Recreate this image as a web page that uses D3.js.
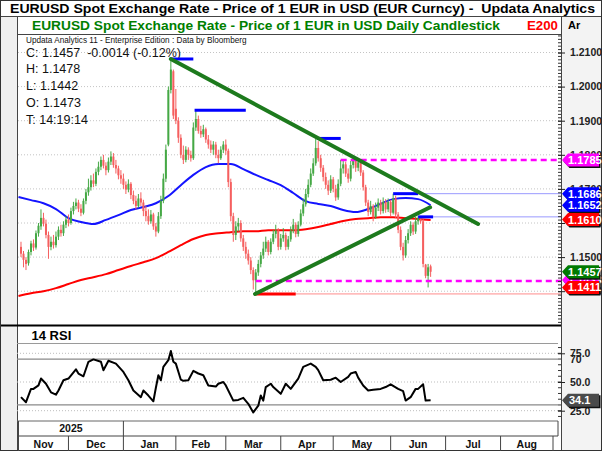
<!DOCTYPE html>
<html>
<head>
<meta charset="utf-8">
<script src="https://cdn.jsdelivr.net/npm/d3@7"></script>
<style>
  body { margin: 0; background: #fff; }
  text { font-family: "Liberation Sans", Arial, sans-serif; }
</style>
</head>
<body>
<div id="chart"></div>
<script>
// ---- data ----
const monthNames = ["Nov", "Dec", "Jan", "Feb", "Mar", "Apr", "May", "Jun", "Jul", "Aug"];
// trading-day index where each month starts (last entry = end of Aug)
const monthStart = [0, 20, 42, 63, 83, 105, 126, 149, 171, 193, 214];
const yearLabel = "2025";
const yearCellEnd = 42;

const priceTicks = [1.21, 1.20, 1.19, 1.18, 1.17, 1.16, 1.15, 1.14];

// daily candles [open, high, low, close], first one is trading day 1
const candles = [
  [1.1530,1.1545,1.1500,1.1510],[1.1510,1.1518,1.1470,1.1492],[1.1492,1.1500,1.1462,1.1480],[1.1482,1.1522,1.1475,1.1515],
  [1.1515,1.1548,1.1505,1.1540],[1.1540,1.1552,1.1518,1.1528],[1.1528,1.1578,1.1522,1.1570],[1.1570,1.1600,1.1560,1.1592],
  [1.1590,1.1640,1.1580,1.1615],[1.1615,1.1630,1.1590,1.1598],[1.1598,1.1610,1.1555,1.1565],[1.1565,1.1575,1.1495,1.1530],
  [1.1530,1.1560,1.1520,1.1545],[1.1545,1.1565,1.1525,1.1535],[1.1535,1.1575,1.1528,1.1560],[1.1560,1.1590,1.1550,1.1580],
  [1.1580,1.1595,1.1560,1.1570],[1.1570,1.1605,1.1562,1.1595],[1.1595,1.1620,1.1585,1.1610],[1.1610,1.1625,1.1590,1.1600],
  [1.1600,1.1645,1.1595,1.1635],[1.1635,1.1662,1.1625,1.1650],[1.1650,1.1672,1.1640,1.1660],[1.1660,1.1668,1.1632,1.1642],
  [1.1642,1.1655,1.1620,1.1630],[1.1630,1.1672,1.1625,1.1665],[1.1665,1.1700,1.1655,1.1690],[1.1690,1.1730,1.1680,1.1705],
  [1.1705,1.1740,1.1695,1.1725],[1.1725,1.1745,1.1705,1.1715],[1.1715,1.1760,1.1708,1.1750],[1.1750,1.1780,1.1740,1.1765],
  [1.1765,1.1795,1.1755,1.1785],[1.1785,1.1800,1.1760,1.1768],[1.1768,1.1778,1.1740,1.1755],[1.1755,1.1792,1.1748,1.1780],
  [1.1780,1.1810,1.1770,1.1795],[1.1795,1.1805,1.1762,1.1770],[1.1770,1.1785,1.1745,1.1760],[1.1760,1.1768,1.1728,1.1740],
  [1.1740,1.1755,1.1715,1.1730],[1.1730,1.1745,1.1700,1.1712],[1.1712,1.1722,1.1685,1.1698],[1.1698,1.1728,1.1690,1.1715],
  [1.1715,1.1720,1.1670,1.1682],[1.1682,1.1695,1.1655,1.1665],[1.1665,1.1680,1.1640,1.1650],[1.1650,1.1685,1.1645,1.1672],
  [1.1672,1.1690,1.1650,1.1660],[1.1660,1.1668,1.1620,1.1635],[1.1635,1.1650,1.1605,1.1620],[1.1620,1.1640,1.1595,1.1605],
  [1.1605,1.1638,1.1598,1.1625],[1.1625,1.1630,1.1580,1.1590],[1.1590,1.1600,1.1560,1.1575],[1.1575,1.1632,1.1570,1.1620],
  [1.1620,1.1680,1.1612,1.1665],[1.1665,1.1745,1.1658,1.1730],[1.1730,1.1830,1.1720,1.1815],[1.1830,1.2000,1.1825,1.1990],
  [1.1990,1.2081,1.1980,1.2050],[1.2045,1.2050,1.1905,1.1915],[1.1935,1.1993,1.1890,1.1900],[1.1900,1.1910,1.1835,1.1850],
  [1.1850,1.1860,1.1790,1.1800],[1.1800,1.1827,1.1773,1.1785],[1.1785,1.1825,1.1778,1.1815],[1.1815,1.1822,1.1785,1.1800],
  [1.1800,1.1812,1.1780,1.1790],[1.1790,1.1895,1.1785,1.1880],[1.1880,1.1931,1.1870,1.1905],[1.1905,1.1915,1.1862,1.1870],
  [1.1870,1.1885,1.1850,1.1860],[1.1860,1.1888,1.1852,1.1875],[1.1875,1.1880,1.1835,1.1845],[1.1845,1.1858,1.1818,1.1830],
  [1.1830,1.1842,1.1805,1.1815],[1.1815,1.1840,1.1800,1.1830],[1.1830,1.1838,1.1790,1.1800],[1.1800,1.1815,1.1775,1.1790],
  [1.1790,1.1825,1.1785,1.1815],[1.1815,1.1840,1.1805,1.1830],[1.1830,1.1845,1.1800,1.1812],[1.1812,1.1818,1.1705,1.1720],
  [1.1720,1.1730,1.1605,1.1620],[1.1620,1.1630,1.1545,1.1565],[1.1565,1.1605,1.1550,1.1590],[1.1590,1.1615,1.1575,1.1600],
  [1.1600,1.1608,1.1545,1.1555],[1.1555,1.1565,1.1518,1.1530],[1.1530,1.1545,1.1495,1.1510],[1.1510,1.1522,1.1478,1.1490],
  [1.1490,1.1500,1.1450,1.1462],[1.1462,1.1470,1.1405,1.1432],[1.1432,1.1465,1.1392,1.1455],[1.1455,1.1492,1.1445,1.1480],
  [1.1480,1.1515,1.1470,1.1505],[1.1505,1.1545,1.1495,1.1525],[1.1525,1.1560,1.1515,1.1545],[1.1545,1.1550,1.1505,1.1515],
  [1.1515,1.1555,1.1508,1.1545],[1.1545,1.1580,1.1538,1.1568],[1.1568,1.1595,1.1555,1.1578],[1.1578,1.1585,1.1520,1.1530],
  [1.1530,1.1568,1.1522,1.1555],[1.1555,1.1585,1.1545,1.1565],[1.1565,1.1572,1.1520,1.1530],[1.1530,1.1562,1.1522,1.1552],
  [1.1552,1.1590,1.1545,1.1578],[1.1578,1.1612,1.1570,1.1595],[1.1595,1.1602,1.1558,1.1568],[1.1568,1.1605,1.1560,1.1595],
  [1.1595,1.1640,1.1590,1.1628],[1.1628,1.1672,1.1620,1.1655],[1.1655,1.1700,1.1648,1.1685],[1.1685,1.1728,1.1675,1.1712],
  [1.1712,1.1760,1.1705,1.1745],[1.1745,1.1790,1.1738,1.1775],[1.1775,1.1848,1.1768,1.1820],[1.1820,1.1840,1.1780,1.1790],
  [1.1790,1.1800,1.1750,1.1762],[1.1762,1.1770,1.1722,1.1735],[1.1735,1.1748,1.1700,1.1712],[1.1712,1.1725,1.1682,1.1695],
  [1.1695,1.1740,1.1688,1.1728],[1.1728,1.1735,1.1690,1.1700],[1.1700,1.1712,1.1665,1.1675],[1.1675,1.1728,1.1668,1.1715],
  [1.1715,1.1785,1.1708,1.1760],[1.1760,1.1785,1.1745,1.1772],[1.1772,1.1780,1.1735,1.1745],[1.1745,1.1760,1.1718,1.1730],
  [1.1730,1.1782,1.1722,1.1770],[1.1770,1.1790,1.1760,1.1782],[1.1782,1.1788,1.1750,1.1762],[1.1762,1.1786,1.1752,1.1778],
  [1.1778,1.1784,1.1738,1.1748],[1.1748,1.1755,1.1695,1.1705],[1.1705,1.1712,1.1650,1.1660],[1.1660,1.1668,1.1620,1.1632],
  [1.1632,1.1665,1.1625,1.1650],[1.1650,1.1655,1.1605,1.1618],[1.1618,1.1660,1.1612,1.1645],[1.1645,1.1672,1.1635,1.1660],
  [1.1660,1.1668,1.1625,1.1635],[1.1635,1.1675,1.1628,1.1662],[1.1662,1.1670,1.1630,1.1640],[1.1640,1.1672,1.1632,1.1662],
  [1.1662,1.1668,1.1620,1.1630],[1.1630,1.1686,1.1625,1.1672],[1.1672,1.1680,1.1615,1.1625],[1.1625,1.1632,1.1570,1.1580],
  [1.1580,1.1590,1.1520,1.1530],[1.1530,1.1542,1.1490,1.1505],[1.1505,1.1562,1.1498,1.1550],[1.1550,1.1582,1.1540,1.1570],
  [1.1570,1.1605,1.1562,1.1595],[1.1595,1.1602,1.1565,1.1575],[1.1575,1.1618,1.1568,1.1605],[1.1605,1.1620,1.1595,1.1615],
  [1.1615,1.1620,1.1598,1.1605],[1.1605,1.1612,1.1470,1.1480],[1.1478,1.1480,1.1438,1.1445],[1.1445,1.1480,1.1411,1.1470],
  [1.1473,1.1478,1.1442,1.1457]
];

// moving averages, sampled every 5 trading days from day 0
const maDays = [0,5,10,15,20,25,30,35,40,45,50,55,60,65,70,75,80,85,90,95,100,105,110,115,120,125,130,135,140,145,150,155,160,165];
const ma50 = [1.1676,1.1667,1.1658,1.1641,1.1614,1.1603,1.1597,1.1609,1.1623,1.1638,1.1647,1.1658,1.1679,1.1711,1.1741,1.1764,1.1773,
  1.1773,1.1758,1.1741,1.1726,1.1711,1.1688,1.1664,1.1656,1.1650,1.1638,1.1632,1.1641,1.1656,1.1670,1.1673,1.1670,1.1652];
const ma200 = [1.1386,1.1394,1.1400,1.1409,1.1421,1.1433,1.1441,1.1450,1.1462,1.1474,1.1485,1.1497,1.1515,1.1535,1.1553,1.1565,1.1570,
  1.1573,1.1576,1.1576,1.1579,1.1579,1.1579,1.1582,1.1588,1.1597,1.1606,1.1612,1.1614,1.1617,1.1617,1.1614,1.1612,1.1609];

// 14 RSI
const rsiDays = [1,3,5,6,8,9,11,13,15,16,18,20,23,24,26,28,30,33,34,36,39,42,44,46,49,50,52,54,55,56,57,58,60,61,62,63,65,66,68,70,
  72,74,76,79,80,82,83,86,88,90,92,94,96,97,98,99,101,102,105,107,109,112,114,117,119,120,122,125,127,129,132,133,135,136,138,140,
  142,145,147,149,152,154,155,157,159,160,162,163,165];
const rsiVals = [36.8,32.4,44,44,47,53,48.5,41,39,42.6,51.5,53,61,57.4,55,67.6,69.7,67.6,60.3,68.5,66,58.8,51.5,42.6,36.8,42.6,38.2,
  33.2,45,55.9,51.5,63.2,69,77,67.6,66,52,51,51.5,59.7,57.4,55.9,47,46,48.5,50,47,33.8,34.4,36.2,31,23.5,29.4,38.2,33.8,45.6,48.5,
  45.6,39.7,48.5,44,53,63.2,66,63.2,60.3,51.5,52,53.8,50,54.4,57.4,58.8,53.8,47,42.6,43.2,44,45.6,48,44,42,33.8,36.8,44,44,48,33.8,34.1];
const rsiTicks = [75, 50, 25];
const rsiBands = [70, 30];
const rsiDotted = [75, 50, 25];
const rsiLast = 34.1;

// drawn studies: [fromDay, toDay, price]
const trendLines = [[[61, 1.2081], [184, 1.1597]], [[94.7, 1.1392], [164.8, 1.1646]]];
const highLines = [[61, 70, 1.2081], [70.5, 91, 1.1931], [119.5, 129, 1.1848], [150, 160, 1.1686], [160, 166, 1.1618]];
const highExtend = [[160, 1.1686], [166, 1.1618]];
const lowLine = [95, 111, 1.1392];
const pinkLines = [[129, 1.1785], [95, 1.1430]];

// value tags on the price axis (drawn in this order)
const tagValues = [1.1785, 1.1686, 1.1652, 1.1610, 1.1433, 1.1457, 1.1411];
const tagColors = ["#ff00ff", "#0000ff", "#0000ff", "#ff0000", "#ff00ff", "#007a00", "#ff0000"];

const titleText = "EURUSD Spot Exchange Rate - Price of 1 EUR in USD (EUR Curncy) -  Updata Analytics";
const subTitle = "EURUSD Spot Exchange Rate - Price of 1 EUR in USD Daily Candlestick";
const infoLines = ["C: 1.1457  -0.0014 (-0.12%)", "H: 1.1478", "L: 1.1442", "O: 1.1473", "T: 14:19:14"];

// ---- layout ----
const W = 602, H = 451;
const plotL = 17, axisX = 561, plotR = 558;
const mainTop = 34.5, mainBot = 325;
const rsiBot = 421, yearRowBot = 436;

const x = d3.scaleLinear().domain([0, 214]).range([18.5, 553]);
const y = d3.scaleLinear().domain([1.14, 1.21]).range([291.2, 52.5]);
const yR = d3.scaleLinear().domain([25, 75]).range([410.7, 353.3]);

const svg = d3.select("#chart").append("svg")
  .attr("width", W).attr("height", H);

svg.append("rect").attr("width", W).attr("height", H).attr("fill", "#fff");
svg.append("rect").attr("x", 0).attr("y", 16).attr("width", plotL).attr("height", H - 16).attr("fill", "#f0f0f0");
svg.append("rect").attr("x", axisX).attr("y", 16).attr("width", W - axisX).attr("height", H - 16).attr("fill", "#f3f3f3");

// title rows
svg.append("text").attr("x", 10).attr("y", 13).attr("font-size", 13.5).attr("font-weight", "bold")
  .attr("fill", "#000").style("white-space", "pre")
  .attr("textLength", 585).attr("lengthAdjust", "spacingAndGlyphs").text(titleText);
svg.append("text").attr("x", 32).attr("y", 30).attr("font-size", 13.5).attr("font-weight", "bold")
  .attr("fill", "#008000").attr("textLength", 468).attr("lengthAdjust", "spacingAndGlyphs").text(subTitle);
svg.append("text").attr("x", 527).attr("y", 30).attr("font-size", 13.5).attr("font-weight", "bold")
  .attr("fill", "#ff0000").attr("textLength", 31).attr("lengthAdjust", "spacingAndGlyphs").text("E200");
svg.append("text").attr("x", 568).attr("y", 29).attr("font-size", 11).attr("font-weight", "bold").text("Ar");

// frame lines
const frame = svg.append("g").attr("stroke", "#444").attr("stroke-width", 1);
frame.append("line").attr("x1", 0).attr("x2", W).attr("y1", 16.5).attr("y2", 16.5);
frame.append("line").attr("x1", plotL).attr("x2", axisX).attr("y1", mainTop).attr("y2", mainTop);
frame.append("line").attr("x1", plotL + 0.5).attr("x2", plotL + 0.5).attr("y1", 16.5).attr("y2", H);
frame.append("line").attr("x1", axisX + 0.5).attr("x2", axisX + 0.5).attr("y1", 16.5).attr("y2", H);
svg.append("line").attr("x1", 0).attr("x2", axisX).attr("y1", mainBot + 0.5).attr("y2", mainBot + 0.5)
  .attr("stroke", "#000").attr("stroke-width", 2);
svg.append("rect").attr("x", 0.5).attr("y", 0.5).attr("width", W - 1).attr("height", H - 1)
  .attr("fill", "none").attr("stroke", "#333");

// price grid
svg.append("g").selectAll("line").data(priceTicks).join("line")
  .attr("x1", plotL + 1).attr("x2", axisX)
  .attr("y1", d => y(d)).attr("y2", d => y(d))
  .attr("stroke", "#c4c4c4").attr("stroke-dasharray", "1,2");

// info text
svg.append("text").attr("x", 26).attr("y", 42.5).attr("font-size", 8.2).attr("fill", "#111")
  .text("Updata Analytics 11 - Enterprise Edition : Data by Bloomberg");
svg.append("g").selectAll("text").data(infoLines).join("text")
  .attr("x", 26).attr("y", (d, i) => 56.5 + i * 16.8)
  .attr("font-size", 12.5).attr("fill", "#111").style("white-space", "pre").text(d => d);

// moving averages
const maLine = vals => d3.line().x((d, i) => x(maDays[i])).y(d => y(d)).curve(d3.curveMonotoneX)(vals);
svg.append("path").attr("d", maLine(ma200)).attr("fill", "none").attr("stroke", "#ff0000").attr("stroke-width", 2);
svg.append("path").attr("d", maLine(ma50)).attr("fill", "none").attr("stroke", "#1414ff").attr("stroke-width", 2);

// candles
const up = "#45a845", down = "#f55f5f";
const bars = svg.append("g").selectAll("g").data(candles).join("g")
  .attr("stroke", d => d[3] >= d[0] ? up : down)
  .attr("fill", d => d[3] >= d[0] ? up : down);
bars.append("line")
  .attr("x1", (d, i) => x(i + 1)).attr("x2", (d, i) => x(i + 1))
  .attr("y1", d => y(d[1])).attr("y2", d => y(d[2])).attr("stroke-width", 1);
bars.append("rect")
  .attr("x", (d, i) => x(i + 1) - 1).attr("width", 2).attr("stroke", "none")
  .attr("y", d => y(Math.max(d[0], d[3])))
  .attr("height", d => Math.max(1, Math.abs(y(d[0]) - y(d[3]))));

// support / resistance studies
svg.append("g").selectAll("line").data(pinkLines).join("line")
  .attr("x1", d => x(d[0])).attr("x2", axisX)
  .attr("y1", d => y(d[1])).attr("y2", d => y(d[1]))
  .attr("stroke", "#ff00ff").attr("stroke-width", 2.5).attr("stroke-dasharray", "6,4");
svg.append("g").selectAll("line").data(highExtend).join("line")
  .attr("x1", d => x(d[0])).attr("x2", axisX)
  .attr("y1", d => y(d[1])).attr("y2", d => y(d[1]))
  .attr("stroke", "#9a9aff").attr("stroke-width", 1);
svg.append("line").attr("x1", x(lowLine[1])).attr("x2", axisX)
  .attr("y1", y(lowLine[2])).attr("y2", y(lowLine[2]))
  .attr("stroke", "#ff8c8c").attr("stroke-width", 1);
svg.append("line").attr("x1", x(lowLine[0])).attr("x2", x(lowLine[1]))
  .attr("y1", y(lowLine[2])).attr("y2", y(lowLine[2]))
  .attr("stroke", "#ff0000").attr("stroke-width", 3);
svg.append("g").selectAll("line").data(highLines).join("line")
  .attr("x1", d => x(d[0])).attr("x2", d => x(d[1]))
  .attr("y1", d => y(d[2])).attr("y2", d => y(d[2]))
  .attr("stroke", "#0000ff").attr("stroke-width", 3);
svg.append("g").selectAll("line").data(trendLines).join("line")
  .attr("x1", d => x(d[0][0])).attr("y1", d => y(d[0][1]))
  .attr("x2", d => x(d[1][0])).attr("y2", d => y(d[1][1]))
  .attr("stroke", "#1d7a1d").attr("stroke-width", 4).attr("stroke-linecap", "round");

// price axis
const minor = d3.range(1131, 1216).map(v => v / 1000);
svg.append("g").selectAll("line").data(minor).join("line")
  .attr("x1", axisX - 3).attr("x2", axisX)
  .attr("y1", d => y(d) + 0.5).attr("y2", d => y(d) + 0.5)
  .attr("stroke", "#333");
const pAxis = svg.append("g").attr("transform", `translate(${axisX},0)`)
  .call(d3.axisRight(y).tickValues(priceTicks).tickFormat(d3.format(".4f")).tickSize(4).tickPadding(5));
pAxis.select(".domain").remove();
pAxis.selectAll(".tick line").attr("x1", -3).attr("stroke", "#222");
pAxis.selectAll("text").attr("font-family", "Liberation Sans, Arial, sans-serif")
  .attr("font-size", 10.5).attr("font-weight", "bold").attr("fill", "#222");

// value tags
function tagPath(cy) {
  const x0 = axisX + 1, x1 = axisX + 7, x2 = W - 3, h = 6.5;
  return `M${x0},${cy}L${x1},${cy - h}L${x2},${cy - h}L${x2},${cy + h}L${x1},${cy + h}Z`;
}
const tags = svg.append("g").selectAll("g").data(tagValues).join("g");
tags.append("path").attr("d", d => tagPath(y(d))).attr("transform", "translate(1.5,1.5)").attr("fill", "#111");
tags.append("path").attr("d", d => tagPath(y(d))).attr("fill", (d, i) => tagColors[i]);
tags.append("text").attr("x", axisX + 7).attr("y", d => y(d) + 4)
  .attr("font-size", 11).attr("font-weight", "bold").attr("fill", "#fff")
  .text(d => d3.format(".4f")(d));

// ---- RSI panel ----
svg.append("text").attr("x", 31.5).attr("y", 339.5).attr("font-size", 13).attr("font-weight", "bold").text("14 RSI");
const rsiFrame = svg.append("g").attr("stroke", "#9a9a9a");
rsiFrame.append("line").attr("x1", plotL).attr("x2", plotR).attr("y1", 343.5).attr("y2", 343.5);
rsiFrame.append("line").attr("x1", plotL).attr("x2", plotR).attr("y1", rsiBot).attr("y2", rsiBot).attr("stroke", "#666");
svg.append("g").selectAll("line").data(rsiBands).join("line")
  .attr("x1", plotL).attr("x2", plotR).attr("y1", d => yR(d)).attr("y2", d => yR(d))
  .attr("stroke", "#8a8a8a").attr("stroke-width", 1.2);
svg.append("g").selectAll("line").data(rsiDotted).join("line")
  .attr("x1", plotL).attr("x2", plotR).attr("y1", d => yR(d)).attr("y2", d => yR(d))
  .attr("stroke", "#bdbdbd").attr("stroke-dasharray", "1,2");

svg.append("path")
  .attr("d", d3.line().x((d, i) => x(rsiDays[i])).y(d => yR(d)).curve(d3.curveLinear)(rsiVals))
  .attr("fill", "none").attr("stroke", "#000").attr("stroke-width", 2).attr("stroke-linejoin", "round");

svg.append("g").selectAll("line").data(d3.range(20, 85, 5)).join("line")
  .attr("x1", axisX - 3).attr("x2", axisX).attr("y1", d => yR(d)).attr("y2", d => yR(d)).attr("stroke", "#333");
// band labels sit under the main labels, as on the original
svg.append("g").selectAll("text").data(rsiBands).join("text")
  .attr("x", axisX + 9).attr("y", d => yR(d) + 4).attr("font-size", 10.5).attr("font-weight", "bold")
  .attr("fill", "#222").text(d => d);
const rAxis = svg.append("g").attr("transform", `translate(${axisX},0)`)
  .call(d3.axisRight(yR).tickValues(rsiTicks).tickFormat(d3.format(".1f")).tickSize(4).tickPadding(5));
rAxis.select(".domain").remove();
rAxis.selectAll(".tick line").attr("x1", -3).attr("stroke", "#222");
rAxis.selectAll("text").attr("font-family", "Liberation Sans, Arial, sans-serif")
  .attr("font-size", 10.5).attr("font-weight", "bold").attr("fill", "#222");

const rTag = svg.append("g");
rTag.append("path").attr("d", tagPath(yR(rsiLast))).attr("transform", "translate(1.5,1.5)").attr("fill", "#111");
rTag.append("path").attr("d", tagPath(yR(rsiLast))).attr("fill", "#4a4a4a");
rTag.append("text").attr("x", axisX + 8).attr("y", yR(rsiLast) + 4).attr("font-size", 11)
  .attr("font-weight", "bold").attr("fill", "#fff").text(d3.format(".1f")(rsiLast));

// ---- date rows ----
const rows = svg.append("g").attr("stroke", "#444").attr("fill", "none");
rows.append("line").attr("x1", plotL).attr("x2", plotR).attr("y1", yearRowBot).attr("y2", yearRowBot);
rows.append("line").attr("x1", x(0)).attr("x2", x(0)).attr("y1", rsiBot).attr("y2", H);
rows.append("line").attr("x1", x(yearCellEnd)).attr("x2", x(yearCellEnd)).attr("y1", rsiBot).attr("y2", yearRowBot);
rows.append("line").attr("x1", plotR).attr("x2", plotR).attr("y1", rsiBot).attr("y2", yearRowBot);
rows.selectAll(".msep").data(monthStart.slice(1)).join("line")
  .attr("x1", d => x(d)).attr("x2", d => x(d)).attr("y1", yearRowBot).attr("y2", H);

svg.append("text").attr("x", (x(0) + x(yearCellEnd)) / 2).attr("y", 432).attr("text-anchor", "middle")
  .attr("font-size", 10.5).attr("font-weight", "bold").attr("fill", "#111").text(yearLabel);
svg.append("g").selectAll("text").data(monthNames).join("text")
  .attr("x", (d, i) => (x(monthStart[i]) + x(monthStart[i + 1])) / 2).attr("y", 447.5)
  .attr("text-anchor", "middle").attr("font-size", 10.5).attr("font-weight", "bold").attr("fill", "#111")
  .text(d => d);
</script>
</body>
</html>
